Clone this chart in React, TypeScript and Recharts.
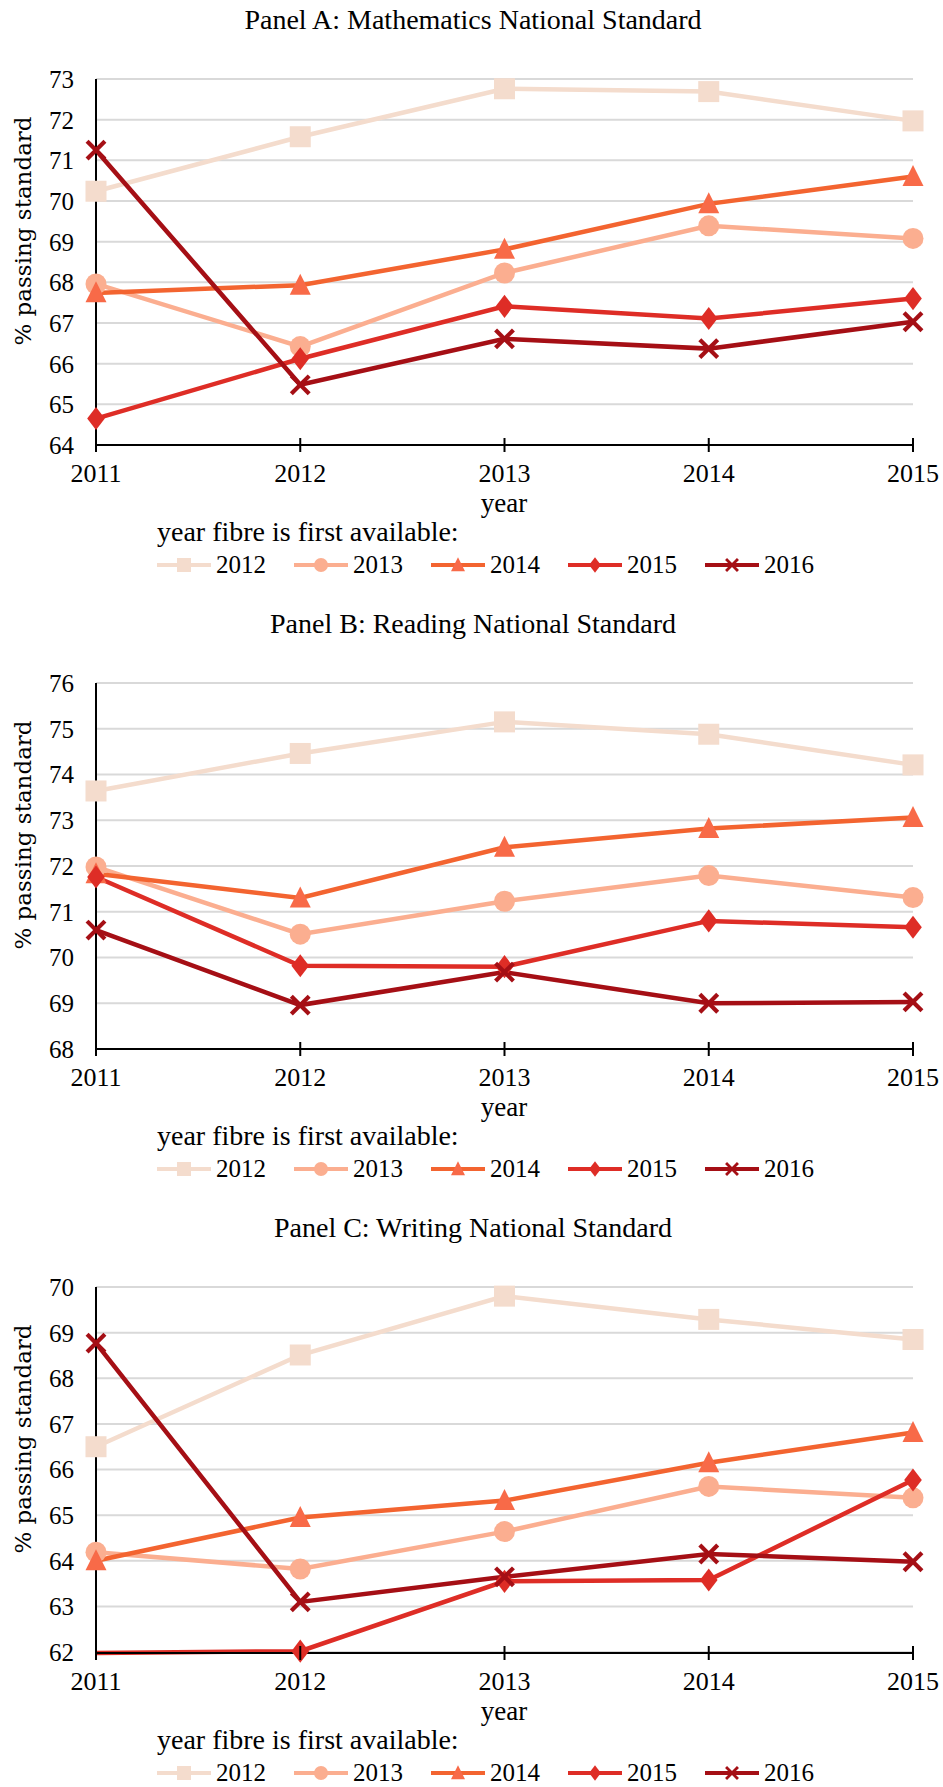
import React from "react";
import { LineChart, Line, XAxis, YAxis, CartesianGrid } from "recharts";

const years = [2011, 2012, 2013, 2014, 2015];
const cohorts = ["2012", "2013", "2014", "2015", "2016"];

// Panel A: Mathematics
const mathFibre2012 = [70.24, 71.58, 72.76, 72.69, 71.97];
const mathFibre2013 = [67.96, 66.42, 68.23, 69.39, 69.08];
const mathFibre2014 = [67.74, 67.93, 68.81, 69.93, 70.6];
const mathFibre2015 = [64.65, 66.12, 67.41, 67.11, 67.6];
const mathFibre2016 = [71.25, 65.48, 66.61, 66.37, 67.03];
const mathTicks = [64, 65, 66, 67, 68, 69, 70, 71, 72, 73];

// Panel B: Reading
const readFibre2012 = [73.64, 74.46, 75.15, 74.88, 74.21];
const readFibre2013 = [71.98, 70.51, 71.23, 71.79, 71.31];
const readFibre2014 = [71.83, 71.3, 72.41, 72.82, 73.06];
const readFibre2015 = [71.76, 69.82, 69.8, 70.8, 70.66];
const readFibre2016 = [70.6, 68.96, 69.68, 69.0, 69.03];
const readTicks = [68, 69, 70, 71, 72, 73, 74, 75, 76];

// Panel C: Writing
const writeFibre2012 = [66.5, 68.51, 69.8, 69.29, 68.85];
const writeFibre2013 = [64.19, 63.82, 64.64, 65.63, 65.38];
const writeFibre2014 = [64.0, 64.95, 65.32, 66.15, 66.81];
const writeFibre2015 = [61.98, 62.02, 63.55, 63.58, 65.77];
const writeFibre2016 = [68.77, 63.1, 63.65, 64.15, 63.98];
const writeTicks = [62, 63, 64, 65, 66, 67, 68, 69, 70];

const colors = ["#F4DCCD", "#FBAE90", "#F36430", "#DE2D26", "#A50F15"];
const markerColors = ["#F4DCCD", "#FBAE90", "#F86A48", "#DE2D26", "#A50F15"];
const shapes = ["square", "circle", "triangle", "diamond", "cross"];

const FONT = '"Liberation Serif", "Times New Roman", serif';

function Marker({ shape, cx, cy, s, color }) {
  if (cx == null || cy == null) return <g />;
  const h = s / 2;
  if (shape === "square")
    return <rect x={cx - h} y={cy - h} width={s} height={s} fill={color} />;
  if (shape === "circle") return <circle cx={cx} cy={cy} r={h} fill={color} />;
  if (shape === "triangle")
    return (
      <polygon
        points={`${cx},${cy - s * 0.55} ${cx + h},${cy + s * 0.45} ${cx - h},${cy + s * 0.45}`}
        fill={color}
      />
    );
  if (shape === "diamond")
    return (
      <polygon
        points={`${cx},${cy - s * 0.55} ${cx + s * 0.42},${cy} ${cx},${cy + s * 0.55} ${cx - s * 0.42},${cy}`}
        fill={color}
      />
    );
  const k = h * 0.85;
  return (
    <g stroke={color} strokeWidth={s / 5}>
      <line x1={cx - k} y1={cy - k} x2={cx + k} y2={cy + k} />
      <line x1={cx - k} y1={cy + k} x2={cx + k} y2={cy - k} />
    </g>
  );
}

const XTick = (p) => (
  <g>
    <line x1={p.x} x2={p.x} y1={p.y - 7} y2={p.y + 7} stroke="#000" strokeWidth={2} />
    <text x={p.x} y={p.y + 37} textAnchor="middle" fontSize={26} fontFamily={FONT} fill="#000">
      {p.payload.value}
    </text>
  </g>
);

function Panel({ title, top, series, ticks }) {
  const yMin = ticks[0];
  const yMax = ticks[ticks.length - 1];
  const data = years.map((y, i) => {
    const row = { year: y };
    cohorts.forEach((c, j) => {
      row["f" + c] = series[j][i];
    });
    return row;
  });

  return (
    <div style={{ position: "absolute", left: 0, top, width: 943, height: 604 }}>
      <div
        style={{
          position: "absolute",
          left: 0,
          top: 6,
          width: 946,
          textAlign: "center",
          fontSize: 28,
          lineHeight: "28px",
          whiteSpace: "nowrap",
        }}
      >
        {title}
      </div>
      <div style={{ position: "absolute", left: 0, top: 0 }}>
        <LineChart
          width={943}
          height={604}
          data={data}
          margin={{ top: 79, right: 30, bottom: 59, left: 0 }}
        >
          <CartesianGrid vertical={false} stroke="#D9D9D9" strokeWidth={2} />
          <XAxis
            dataKey="year"
            type="number"
            domain={[2011, 2015]}
            ticks={years}
            height={100}
            tickSize={0}
            tickMargin={0}
            tickLine={false}
            axisLine={{ stroke: "#000", strokeWidth: 2 }}
            tick={<XTick />}
            interval={0}
          />
          <YAxis
            type="number"
            domain={[yMin, yMax]}
            ticks={ticks}
            width={96}
            tickSize={0}
            tickMargin={22}
            tickLine={false}
            axisLine={{ stroke: "#000", strokeWidth: 2 }}
            tick={{ fontSize: 25, fontFamily: FONT, fill: "#000" }}
            interval={0}
          />
          {cohorts.map((c, j) => (
            <Line
              key={c}
              type="linear"
              dataKey={"f" + c}
              stroke={colors[j]}
              strokeWidth={4.5}
              isAnimationActive={false}
              activeDot={false}
              dot={(p) => (
                <Marker
                  key={c + "-" + p.index}
                  shape={shapes[j]}
                  cx={p.cx}
                  cy={p.value < yMin ? null : p.cy}
                  s={21}
                  color={markerColors[j]}
                />
              )}
            />
          ))}
        </LineChart>
      </div>
      <div
        style={{
          position: "absolute",
          left: 23,
          top: 231,
          transform: "translate(-50%, -50%) rotate(-90deg)",
          whiteSpace: "nowrap",
          fontFamily: '"DejaVu Serif", serif',
          fontSize: 23,
          lineHeight: "23px",
        }}
      >
        % passing standard
      </div>
      <div
        style={{
          position: "absolute",
          left: 454,
          top: 493,
          width: 100,
          textAlign: "center",
          fontSize: 27,
          lineHeight: "20px",
        }}
      >
        year
      </div>
      <div
        style={{
          position: "absolute",
          left: 157,
          top: 518,
          fontSize: 28,
          lineHeight: "28px",
          whiteSpace: "nowrap",
        }}
      >
        year fibre is first available:
      </div>
      {cohorts.map((c, j) => (
        <div
          key={c}
          style={{
            position: "absolute",
            left: 157 + j * 137,
            top: 553,
            height: 24,
            display: "flex",
            alignItems: "center",
            whiteSpace: "nowrap",
          }}
        >
          <svg width={56} height={24}>
            <line x1={0} x2={54} y1={12} y2={12} stroke={colors[j]} strokeWidth={4} />
            <Marker shape={shapes[j]} cx={27} cy={12} s={14} color={markerColors[j]} />
          </svg>
          <span style={{ fontSize: 25, lineHeight: "24px", marginLeft: 3 }}>{c}</span>
        </div>
      ))}
    </div>
  );
}

export default function App() {
  return (
    <div
      style={{
        position: "absolute",
        left: 0,
        top: 0,
        width: 943,
        height: 1787,
        background: "#fff",
        fontFamily: FONT,
        color: "#000",
      }}
    >
      <Panel
        title="Panel A: Mathematics National Standard"
        top={0}
        series={[mathFibre2012, mathFibre2013, mathFibre2014, mathFibre2015, mathFibre2016]}
        ticks={mathTicks}
      />
      <Panel
        title="Panel B: Reading National Standard"
        top={604}
        series={[readFibre2012, readFibre2013, readFibre2014, readFibre2015, readFibre2016]}
        ticks={readTicks}
      />
      <Panel
        title="Panel C: Writing National Standard"
        top={1208}
        series={[writeFibre2012, writeFibre2013, writeFibre2014, writeFibre2015, writeFibre2016]}
        ticks={writeTicks}
      />
    </div>
  );
}
